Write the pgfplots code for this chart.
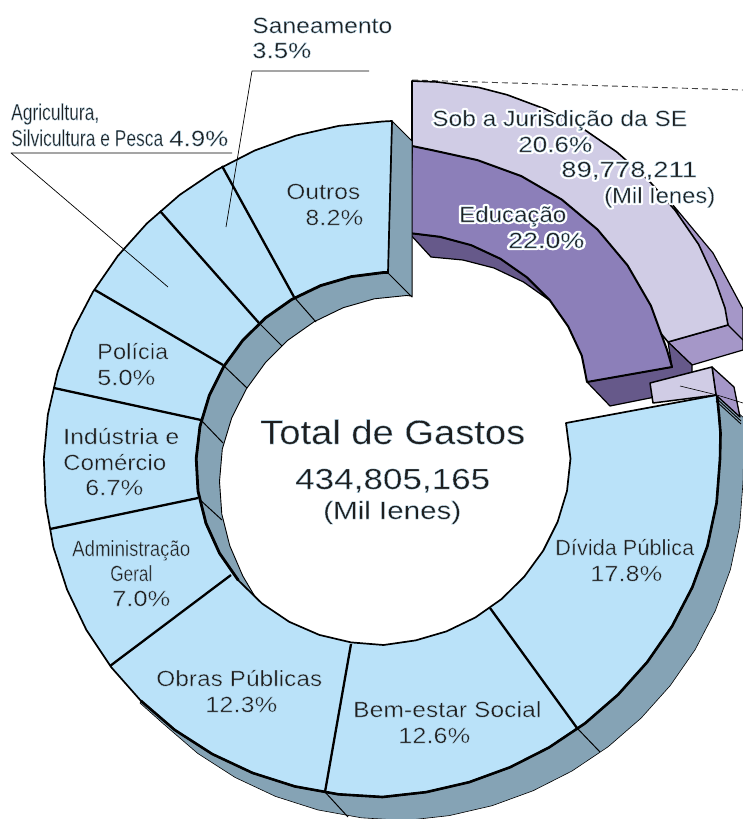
\documentclass[border=0pt]{standalone}
\usepackage{graphicx}
\usepackage{fontspec}
\setmainfont{Liberation Sans}
\usepackage{pgfplots}
\pgfplotsset{compat=1.18}

\definecolor{ringblue}{RGB}{186,226,249}
\definecolor{wall}{RGB}{133,163,181}
\definecolor{lilac}{RGB}{208,204,229}
\definecolor{lilacwall}{RGB}{165,151,200}
\definecolor{purp}{RGB}{140,127,185}
\definecolor{purpwall}{RGB}{102,89,138}
\definecolor{txt}{RGB}{30,30,30}

% the stroke in the background colour thins the letters, the reference face is light
\def\bgrgb{1 1 1}
\newcommand{\thin}[1]{\special{pdf:code q 2 Tr 0.3 w \bgrgb\space RG}#1\special{pdf:code Q}}
% left x, baseline y, width, font size, text
\newcommand{\lab}[5]{\node[anchor=base west,inner sep=0pt,text=txt] at (axis cs:#1,#2) {\fontsize{#4}{#4}\selectfont\resizebox{#3pt}{\height}{\thin{#5}}};}
\newcommand{\halo}[5]{%
  \node[anchor=base west,inner sep=0pt,text=white] at (axis cs:#1,#2) {\fontsize{#4}{#4}\selectfont\resizebox{#3pt}{\height}{\special{pdf:code q 1 Tr 4.2 w 1 j 1 1 1 RG}#5\special{pdf:code Q}}};%
  \lab{#1}{#2}{#3}{#4}{#5}}

\begin{document}
\begin{tikzpicture}[line join=round]
\path[use as bounding box] (0,0) rectangle (743pt,819pt);
\begin{axis}[
  at={(0,0)}, anchor=south west,
  scale only axis, width=743pt, height=819pt,
  xmin=0, xmax=743, ymin=0, ymax=819, y dir=reverse,
  hide axis, clip=true
]
% dashed leader above the exploded slice
\addplot[black!75, line width=0.9pt, dash pattern=on 6pt off 4pt] coordinates {(412,80) (743,90)};

% exploded slice: depth faces first
\addplot[fill=lilacwall, draw=black, line width=1.2pt] coordinates {
  (673,205) (713,253) (743,309) (743,350) (692,365) (668,342) (728,325) (715,281)} --cycle;
\addplot[black, line width=1.2pt] coordinates {(728,325) (743,340)};
\addplot[fill=lilac, draw=black, line width=1.6pt] coordinates {
  (412,81) (437.5,82) (478.5,87.4) (507.1,94.8) (545.9,109.3) (582.6,128.4) (616.7,151.9)
  (647.7,179.3) (675.1,210.3) (698.6,244.4) (715.5,281) (725,308) (728,325) (668,342)
  (600,260) (500,180) (412,150)} --cycle;
\addplot[fill=purpwall, draw=black, line width=1.2pt] coordinates {
  (587,382) (610,406) (660,396) (692,372) (692,365) (668,342) (672,367)} --cycle;
\addplot[fill=purpwall, draw=black, line width=1.2pt] coordinates {
  (409,233) (431,257) (463,260) (494,268) (523.5,282) (549,300) (527,277) (500.5,259) (471,245) (440,237)} --cycle;
\addplot[fill=purp, draw=black, line width=2pt] coordinates {
  (412,146) (431.4,150) (477.4,160.1) (521.3,176.1) (561.7,199.5) (597.5,229.5) (627.5,265.3)
  (650.9,305.7) (666.9,349.6) (672,367) (587,382) (581.8,355.7) (568.2,326.5) (549.7,300.1)
  (526.9,277.3) (500.5,258.8) (471.3,245.2) (440.1,236.8) (409,233)} --cycle;

% depth of the main ring
\addplot[fill=wall, draw=black, line width=0.6pt] coordinates {
  (140,703) (163.8,724.2) (197.7,753.4) (235.2,777.5) (275.5,796.4) (317.8,809.9) (361.4,817.8)
  (405.5,820.5) (449.3,815.6) (492.1,805.7) (533.2,790.7) (572,771) (608.2,746.7) (641.1,718.1)
  (670.2,685.6) (695.1,649.7) (715.3,610.8) (730.4,569.6) (739.6,526.5) (743,482.5) (743.5,459)
  (744,418) (717,395) (650,459) (600,600) (480,700) (300,700) (200,650)} --cycle;
\addplot[fill=wall, draw=black, line width=0.9pt] coordinates {
  (257,600) (242.8,576) (229.8,545.8) (221.8,514.1) (219.5,481.5) (222.3,449) (231.7,417.9)
  (246.3,389) (265.2,362.9) (287.9,340.2) (314.2,321.7) (343.2,307.7) (374.3,298.8) (406.5,295.5)
  (411,296) (388,272) (383,200) (200,275) (125,458) (200,640)} --cycle;
\addplot[fill=wall, draw=black, line width=1pt] coordinates {(392,121) (412,141) (412,297) (388,273)} --cycle;
% slice edges on the wall
\addplot[black, line width=1pt] coordinates {(294,297) (316,322)};
\addplot[black, line width=1pt] coordinates {(259,323) (282,346)};
\addplot[black, line width=1pt] coordinates {(223,365) (247,388)};
\addplot[black, line width=1pt] coordinates {(201,420) (223,443)};
\addplot[black, line width=1pt] coordinates {(198,498) (222,520)};
\addplot[black, line width=1pt] coordinates {(325,792) (348,817)};
\addplot[black, line width=1pt] coordinates {(577,728) (600,752)};

% top face of the ring
\addplot[fill=ringblue, draw=black, line width=1.7pt] coordinates {
  (392,121) (382.5,121.5) (338.6,125.9) (295.9,135.6) (254.7,150.5) (215.9,170.4) (179.8,194.8)
  (146.9,223.4) (117.8,255.9) (93,291.8) (72.7,330.7) (57.6,372) (47.8,414.9) (43.8,459)
  (45.6,503.3) (53.4,547.2) (67.1,589.7) (86.4,630) (111.2,667.2) (140.8,700.7) (174.7,729.9)
  (212.2,754) (252.5,772.9) (294.8,786.4) (338.4,794.3) (382.5,797) (426.3,792.1) (469.1,782.2)
  (510.2,767.2) (549,747.5) (585.2,723.2) (618.1,694.6) (647.2,662.1) (672.1,626.2) (692.3,587.3)
  (707.4,546.1) (716.6,503) (720,459) (720.5,433) (719,415) (717,395)
  (566,423) (570.5,458.5) (567,490.9) (557.6,521.9) (543.2,550.7) (524.3,576.6) (501.5,599.1)
  (475.3,617.5) (446.4,631.4) (415.6,640.4) (383.5,645) (351.1,642.4) (319.3,634.9) (289.2,621.8)
  (261.9,603.4) (238.3,580.3) (219.5,553.2) (205.9,523.1) (198,491.2) (196.2,458.5) (200,426.2)
  (209.4,395.1) (223.8,366.3) (242.7,340.4) (265.5,317.9) (291.7,299.5) (320.6,285.6) (351.4,276.6)
  (383.5,272.5) (388,272.5)} --cycle;
% heavier stretches of the rim
\addplot[black, line width=2.6pt] coordinates {
  (140.8,700.7) (174.7,729.9) (212.2,754) (252.5,772.9) (294.8,786.4) (338.4,794.3) (382.5,797)
  (426.3,792.1) (469.1,782.2) (510.2,767.2) (549,747.5) (585.2,723.2) (618.1,694.6) (647.2,662.1)
  (672.1,626.2) (692.3,587.3) (707.4,546.1) (716.6,503) (720,459) (720.5,433) (719,415) (717,395)};
\addplot[black, line width=2.8pt] coordinates {
  (238.3,580.3) (219.5,553.2) (205.9,523.1) (198,491.2) (196.2,458.5) (200,426.2)
  (209.4,395.1) (223.8,366.3) (242.7,340.4) (265.5,317.9) (291.7,299.5) (320.6,285.6) (351.4,276.6)
  (383.5,272.5) (388,272.5)};
% slice dividers
\addplot[black, line width=2.3pt] coordinates {(294,297) (222,166)};
\addplot[black, line width=2.3pt] coordinates {(259,323) (160,211)};
\addplot[black, line width=2.3pt] coordinates {(223,365) (95,290)};
\addplot[black, line width=2.3pt] coordinates {(201,420) (54,388)};
\addplot[black, line width=2.3pt] coordinates {(198,498) (50,529)};
\addplot[black, line width=2.3pt] coordinates {(231,575) (110,666)};
\addplot[black, line width=2.3pt] coordinates {(351,644) (325,792)};
\addplot[black, line width=2.3pt] coordinates {(490,608) (577,728)};

% small pulled-out piece at the right
\addplot[fill=lilacwall, draw=black, line width=1.3pt] coordinates {(712,367) (734,387) (740,417) (716,395)} --cycle;
\addplot[fill=lilac, draw=black, line width=1.5pt] coordinates {(650,383) (712,367) (716,395) (653,403)} --cycle;
\addplot[black, line width=0.9pt] coordinates {(716,398) (741,421)};
\addplot[black, line width=0.9pt] coordinates {(716,401) (741,424)};
\addplot[black, line width=0.6pt] coordinates {(680,386) (717,395) (743,403)};

% leader lines
\addplot[black, line width=0.7pt] coordinates {(369,71) (252,71) (226,227)};
\addplot[black, line width=0.7pt] coordinates {(232,153) (11,153) (168,287)};

% labels, outside and in the centre: white background
\lab{252}{33}{140}{22}{Saneamento}
\lab{252}{58}{59}{22}{3.5\%}
\lab{11}{120}{88}{23}{Agricultura,}
\lab{11}{146}{152}{23}{Silvicultura e Pesca}
\lab{169}{146}{59}{22}{4.9\%}
\lab{260}{444}{265}{34}{Total de Gastos}
\lab{295}{489}{195}{29}{434,805,165}
\lab{323}{519}{138}{25}{(Mil Ienes)}
\halo{432}{126}{255}{22}{Sob a Jurisdição da SE}
\halo{518}{152}{74}{22}{20.6\%}
\halo{561}{177}{136}{22}{89,778,211}
\halo{604}{203}{111}{22}{(Mil Ienes)}
\halo{459}{222}{107}{22}{Educação}
\halo{508}{248}{76}{22}{22.0\%}
% labels on the ring
\def\bgrgb{0.729 0.886 0.976}
\lab{286}{199}{74}{22}{Outros}
\lab{305}{225}{58}{22}{8.2\%}
\lab{97}{359}{71}{22}{Polícia}
\lab{97}{385}{58}{22}{5.0\%}
\lab{63}{444}{116}{22}{Indústria e}
\lab{63}{470}{103}{22}{Comércio}
\lab{85}{495}{58}{22}{6.7\%}
\lab{72}{556}{118}{22}{Administração}
\lab{110}{581}{42}{22}{Geral}
\lab{112}{606}{58}{22}{7.0\%}
\lab{156}{686}{166}{22}{Obras Públicas}
\lab{205}{712}{72}{22}{12.3\%}
\lab{353}{717}{188}{22}{Bem-estar Social}
\lab{398}{743}{72}{22}{12.6\%}
\lab{555}{555}{139}{22}{Dívida Pública}
\lab{590}{581}{72}{22}{17.8\%}
\end{axis}
\end{tikzpicture}
\end{document}
